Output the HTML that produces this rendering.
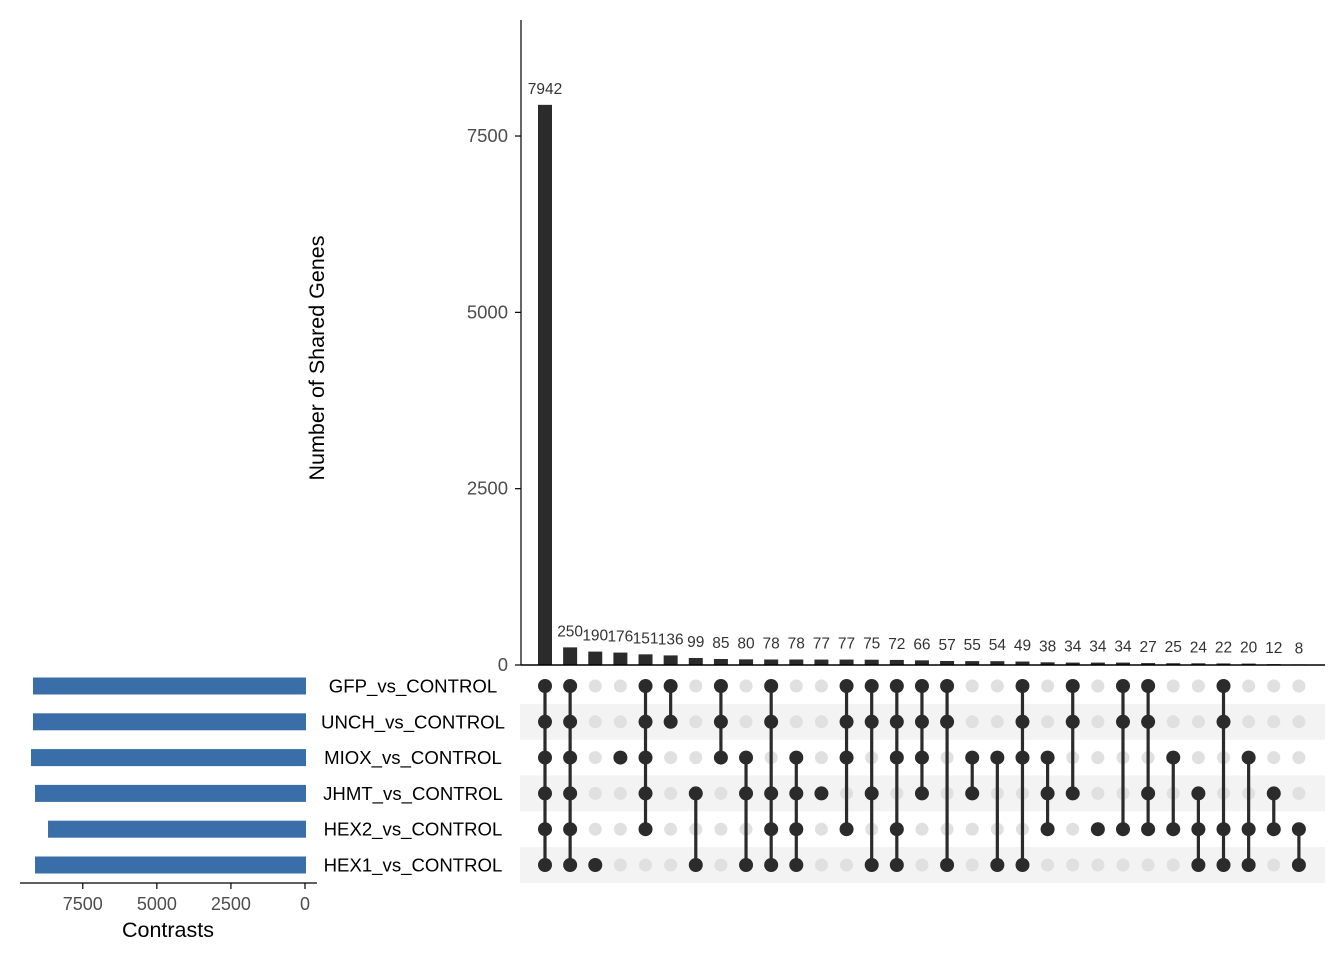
<!DOCTYPE html>
<html><head><meta charset="utf-8"><style>
html,body{margin:0;padding:0;background:#fff}
svg{display:block;font-family:"Liberation Sans",Arial,sans-serif}
</style></head><body>
<svg id="chart" width="1344" height="960" xmlns="http://www.w3.org/2000/svg"></svg>
<script>
const setNames = ["GFP_vs_CONTROL","UNCH_vs_CONTROL","MIOX_vs_CONTROL","JHMT_vs_CONTROL","HEX2_vs_CONTROL","HEX1_vs_CONTROL"];
const setSizes = [9180,9180,9247,9112,8673,9112];
const interCounts = [7942,250,190,176,151,136,99,85,80,78,78,77,77,75,72,66,57,55,54,49,38,34,34,34,27,25,24,22,20,12,8];
const interSets = [[0,1,2,3,4,5],[0,1,2,3,4,5],[5],[2],[0,1,2,3,4],[0,1],[3,5],[0,1,2],[2,3,5],[0,1,3,4,5],[2,3,4,5],[3],[0,1,2,4],[0,1,3,5],[0,1,2,4,5],[0,1,2,3],[0,1,5],[2,3],[2,5],[0,1,2,5],[2,3,4],[0,1,3],[4],[0,1,4],[0,1,3,4],[2,4],[3,4,5],[0,1,4,5],[2,4,5],[3,4],[4,5]];
const yTicks = [0,2500,5000,7500];
const sizeTicks = [0,2500,5000,7500];

const svg = document.getElementById('chart');
const NS = 'http://www.w3.org/2000/svg';
function mk(tag, attrs, parent){const e=document.createElementNS(NS,tag);for(const k in attrs)e.setAttribute(k,attrs[k]);(parent||svg).appendChild(e);return e;}
const colX = i => 545 + i*25.13;
const rowY = r => 686 + r*35.8;
const yScale = v => 665 - v*0.07053;
const sizeX = v => 305 - v*0.02963;

for(let r=1;r<6;r+=2){
  const s=mk('rect',{x:520,y:rowY(r)-17.9,width:805,height:35.8,fill:'#f3f3f3'});
  
  
}
const ya=mk('line',{x1:521,y1:20,x2:521,y2:665,stroke:'#000','stroke-width':1.2});


yTicks.forEach(t=>{
  mk('line',{x1:515,x2:521,y1:yScale(t),y2:yScale(t),stroke:'#000','stroke-width':1.2});
  const tx=mk('text',{x:508,y:yScale(t)+6,'text-anchor':'end','font-size':18.5,fill:'#4d4d4d'});
  tx.textContent=t;
  
  
});
const yt=mk('text',{x:0,y:0,'text-anchor':'middle','font-size':21.5,fill:'#000',transform:'translate(324,358) rotate(-90)'});
yt.textContent='Number of Shared Genes';


interCounts.forEach((v,i)=>{
  const b=mk('rect',{x:colX(i)-7,y:yScale(v),width:14,height:665-yScale(v),fill:'#2b2b2b'});
  
  
  const t=mk('text',{x:colX(i),y:yScale(v)-11,'text-anchor':'middle','font-size':15.5,fill:'#333'});
  t.textContent=v;
  
  
});
const xa=mk('line',{x1:521,y1:665,x2:1325,y2:665,stroke:'#000','stroke-width':1.6});


interCounts.forEach((v,i)=>{
  const on=interSets[i];
  for(let r=0;r<6;r++){
    if(!on.includes(r)){
      const d=mk('circle',{cx:colX(i),cy:rowY(r),r:6.5,fill:'#e0e0e0'});
      
      
    }
  }
  const mn=Math.min(...on), mx=Math.max(...on);
  if(mx>mn){
    const l=mk('line',{x1:colX(i),x2:colX(i),y1:rowY(mn),y2:rowY(mx),stroke:'#2b2b2b','stroke-width':3.2});
    
    
  }
  on.forEach(r=>{
    const d=mk('circle',{cx:colX(i),cy:rowY(r),r:7,fill:'#2b2b2b'});
    
    
  });
});
setNames.forEach((n,r)=>{
  const t=mk('text',{x:413,y:rowY(r)+6.5,'text-anchor':'middle','font-size':18.6,fill:'#000'});
  t.textContent=n;
  
  
  const b=mk('rect',{x:sizeX(setSizes[r]),y:rowY(r)-8.5,width:306-sizeX(setSizes[r]),height:17,fill:'#3a6ea8'});
  
  
});
const sa=mk('line',{x1:20,x2:317,y1:883,y2:883,stroke:'#000','stroke-width':1.2});


sizeTicks.forEach(t=>{
  mk('line',{x1:sizeX(t),x2:sizeX(t),y1:883,y2:889,stroke:'#000','stroke-width':1.2});
  const tx=mk('text',{x:sizeX(t),y:910,'text-anchor':'middle','font-size':18,fill:'#4d4d4d'});
  tx.textContent=t;
  
  
});
const st=mk('text',{x:168,y:937,'text-anchor':'middle','font-size':21.5,fill:'#000'});
st.textContent='Contrasts';


</script>
</body></html>
